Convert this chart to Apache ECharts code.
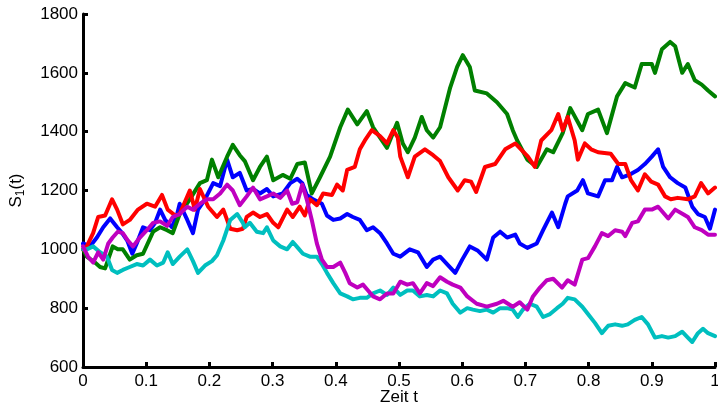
<!DOCTYPE html>
<html>
<head>
<meta charset="utf-8">
<script src="https://cdn.jsdelivr.net/npm/echarts@6/dist/echarts.min.js"></script>
<style>
html,body{margin:0;padding:0;background:#fff;}
#chart{width:718px;height:406px;}
</style>
</head>
<body>
<div id="chart"></div>
<script>
// Axis ticks
var xTicks = [0, 0.1, 0.2, 0.3, 0.4, 0.5, 0.6, 0.7, 0.8, 0.9, 1];
var yTicks = [600, 800, 1000, 1200, 1400, 1600, 1800];

// Series data: [t, S(t)]
var blueData = [[0,1020],[.011,1010],[.022,1040],[.032,1075],[.043,1105],[.054,1075],[.062,1055],[.070,1030],[.078,985],[.085,1020],[.095,1075],[.106,1065],[.114,1090],[.122,1135],[.130,1100],[.141,1075],[.149,1120],[.153,1155],[.165,1100],[.174,1055],[.182,1135],[.193,1170],[.206,1225],[.217,1215],[.228,1305],[.237,1245],[.248,1260],[.259,1200],[.269,1205],[.280,1190],[.291,1205],[.301,1180],[.316,1190],[.328,1225],[.339,1240],[.347,1225],[.354,1185],[.364,1170],[.378,1155],[.386,1115],[.396,1100],[.407,1105],[.418,1120],[.427,1110],[.438,1100],[.449,1065],[.459,1075],[.470,1055],[.481,1020],[.491,985],[.502,975],[.517,1000],[.530,990],[.544,940],[.554,965],[.565,975],[.576,950],[.589,920],[.600,965],[.612,1010],[.625,995],[.639,965],[.649,1040],[.660,1060],[.671,1040],[.684,1050],[.691,1020],[.703,1005],[.718,1020],[.728,1065],[.742,1125],[.752,1075],[.763,1155],[.767,1180],[.782,1200],[.791,1235],[.799,1190],[.815,1180],[.826,1235],[.837,1235],[.845,1280],[.853,1245],[.866,1255],[.878,1270],[.889,1290],[.900,1315],[.910,1340],[.918,1280],[.929,1245],[.941,1225],[.953,1210],[.964,1145],[.973,1120],[.984,1110],[.992,1070],[1,1135]];

var greenData = [[0,1000],[.006,975],[.019,955],[.027,940],[.035,935],[.047,1010],[.055,1000],[.063,1000],[.074,965],[.085,980],[.095,985],[.111,1060],[.122,1075],[.133,1065],[.142,1055],[.153,1120],[.169,1170],[.185,1225],[.196,1235],[.204,1305],[.214,1245],[.228,1315],[.237,1355],[.248,1320],[.256,1300],[.269,1235],[.280,1280],[.291,1315],[.301,1235],[.316,1253],[.328,1240],[.339,1290],[.351,1295],[.362,1190],[.375,1245],[.391,1315],[.407,1415],[.419,1475],[.434,1425],[.449,1470],[.459,1415],[.470,1380],[.481,1345],[.497,1430],[.506,1360],[.514,1330],[.525,1380],[.536,1450],[.544,1405],[.554,1380],[.565,1415],[.581,1550],[.592,1620],[.601,1660],[.612,1620],[.620,1540],[.639,1530],[.655,1500],[.671,1460],[.680,1405],[.687,1370],[.703,1305],[.718,1280],[.734,1340],[.744,1330],[.759,1395],[.771,1480],[.790,1405],[.799,1460],[.815,1475],[.829,1395],[.845,1520],[.858,1565],[.873,1550],[.884,1630],[.900,1630],[.905,1600],[.916,1680],[.929,1705],[.937,1690],[.948,1600],[.957,1630],[.968,1575],[.979,1560],[.989,1540],[1,1520]];

var redData = [[0,1000],[.006,1010],[.016,1055],[.024,1110],[.035,1115],[.046,1170],[.054,1135],[.063,1085],[.074,1100],[.087,1135],[.101,1155],[.114,1145],[.125,1185],[.134,1135],[.146,1115],[.153,1120],[.169,1200],[.177,1135],[.185,1205],[.198,1145],[.212,1110],[.222,1135],[.228,1100],[.233,1070],[.244,1065],[.253,1070],[.259,1110],[.269,1125],[.280,1110],[.291,1120],[.301,1090],[.309,1075],[.323,1135],[.332,1110],[.343,1145],[.351,1115],[.359,1170],[.370,1150],[.380,1190],[.394,1185],[.402,1220],[.411,1200],[.418,1270],[.430,1280],[.438,1340],[.446,1370],[.457,1405],[.470,1385],[.481,1360],[.491,1405],[.498,1380],[.502,1315],[.514,1245],[.525,1315],[.541,1340],[.554,1320],[.565,1300],[.578,1245],[.593,1200],[.604,1235],[.614,1230],[.622,1195],[.636,1280],[.652,1290],[.668,1340],[.684,1360],[.693,1340],[.704,1315],[.715,1280],[.725,1370],[.741,1405],[.752,1460],[.759,1405],[.767,1450],[.778,1370],[.783,1305],[.794,1360],[.804,1340],[.815,1330],[.835,1325],[.847,1290],[.858,1290],[.867,1235],[.878,1200],[.889,1255],[.899,1230],[.910,1220],[.921,1180],[.930,1170],[.941,1175],[.957,1170],[.968,1180],[.978,1225],[.989,1190],[1,1210]];

var cyanData = [[0,1000],[.006,1000],[.016,1010],[.027,990],[.038,975],[.046,930],[.054,920],[.063,930],[.074,940],[.085,950],[.095,945],[.106,965],[.117,945],[.127,955],[.134,990],[.142,950],[.153,975],[.165,1000],[.174,960],[.182,920],[.193,945],[.204,960],[.212,980],[.222,1030],[.233,1100],[.244,1120],[.253,1090],[.256,1075],[.264,1090],[.275,1060],[.285,1055],[.291,1075],[.301,1030],[.312,1010],[.323,1000],[.332,1025],[.340,1005],[.348,985],[.359,975],[.370,975],[.378,950],[.386,920],[.396,885],[.407,850],[.418,840],[.427,830],[.438,835],[.449,835],[.459,850],[.470,860],[.481,845],[.491,870],[.502,845],[.513,860],[.522,860],[.533,840],[.544,845],[.554,840],[.565,860],[.576,850],[.585,815],[.597,785],[.608,800],[.617,795],[.628,790],[.639,795],[.649,785],[.660,800],[.671,800],[.680,795],[.688,770],[.696,795],[.707,815],[.718,805],[.728,770],[.739,780],[.750,800],[.759,815],[.767,835],[.778,830],[.790,805],[.799,780],[.810,750],[.821,715],[.831,740],[.842,745],[.853,740],[.862,745],[.873,760],[.884,770],[.894,745],[.905,700],[.916,705],[.926,700],[.937,705],[.948,720],[.957,700],[.964,685],[.973,715],[.981,730],[.989,715],[1,705]];

var magentaData = [[0,1010],[.008,975],[.016,955],[.024,990],[.032,965],[.040,1020],[.047,1040],[.055,1060],[.063,1055],[.071,1030],[.079,1010],[.090,1040],[.101,1065],[.111,1090],[.122,1095],[.133,1080],[.142,1110],[.153,1120],[.165,1145],[.174,1135],[.185,1155],[.196,1170],[.206,1170],[.217,1190],[.228,1220],[.237,1200],[.248,1150],[.259,1180],[.269,1210],[.280,1170],[.291,1180],[.301,1190],[.312,1175],[.323,1200],[.331,1155],[.339,1160],[.347,1220],[.354,1170],[.362,1100],[.370,1020],[.378,965],[.386,940],[.396,940],[.407,955],[.415,920],[.422,885],[.434,870],[.443,880],[.451,860],[.459,840],[.470,830],[.481,850],[.491,850],[.502,890],[.513,880],[.522,885],[.533,850],[.544,885],[.554,875],[.565,905],[.576,890],[.585,880],[.597,870],[.608,840],[.623,815],[.639,805],[.655,815],[.665,825],[.680,805],[.691,820],[.703,795],[.712,840],[.723,870],[.734,895],[.744,900],[.758,870],[.767,895],[.778,880],[.790,965],[.799,970],[.810,1010],[.821,1055],[.831,1045],[.842,1065],[.853,1060],[.858,1045],[.869,1090],[.878,1095],[.889,1135],[.900,1135],[.910,1145],[.926,1105],[.937,1135],[.949,1120],[.957,1110],[.968,1075],[.979,1065],[.989,1050],[1,1050]];

var seriesNames = ['path 1', 'path 2', 'path 3', 'path 4', 'path 5'];
var seriesColors = ['#0000ff', '#008000', '#ff0000', '#00bfbf', '#bf00bf'];
var seriesData = [blueData, greenData, redData, cyanData, magentaData];

var FONT = '"Liberation Sans", Arial, Helvetica, sans-serif';
var chart = echarts.init(document.getElementById('chart'), null, {renderer: 'canvas'});

var series = seriesData.map(function (d, i) {
  return {
    name: seriesNames[i],
    type: 'line',
    data: d,
    showSymbol: false,
    symbol: 'none',
    silent: true,
    animation: false,
    z: 2 + i,
    lineStyle: {color: seriesColors[i], width: 4, join: 'round', cap: 'round'}
  };
});

chart.setOption({
  animation: false,
  backgroundColor: '#ffffff',
  grid: {left: 83, right: 3, top: 14, bottom: 39, containLabel: false, outerBoundsMode: 'none'},
  xAxis: {
    type: 'value',
    min: xTicks[0],
    max: xTicks[xTicks.length - 1],
    interval: 0.1,
    name: 'Zeit t',
    nameLocation: 'middle',
    nameGap: 22,
    nameMoveOverlap: false,
    nameTextStyle: {color: '#000', fontSize: 17, fontFamily: FONT},
    axisLine: {show: true, lineStyle: {color: '#000', width: 3}},
    axisTick: {show: true, inside: true, length: 5, lineStyle: {color: '#000', width: 3}},
    axisLabel: {color: '#000', fontSize: 17, fontFamily: FONT, margin: 6,
      formatter: function (v) { return String(Math.round(v * 10) / 10); }},
    splitLine: {show: false}
  },
  yAxis: {
    type: 'value',
    min: yTicks[0],
    max: yTicks[yTicks.length - 1],
    interval: 200,
    name: '{s|S}{sub|1}{s|(t)}',
    nameLocation: 'middle',
    nameGap: 56,
    nameMoveOverlap: false,
    nameTextStyle: {
      color: '#000', fontSize: 17, fontFamily: FONT,
      rich: {
        s: {fontSize: 17, fontFamily: FONT, color: '#000', lineHeight: 22},
        sub: {fontSize: 12, fontFamily: FONT, color: '#000', lineHeight: 12, verticalAlign: 'bottom'}
      }
    },
    axisLine: {show: true, lineStyle: {color: '#000', width: 3}},
    axisTick: {show: true, inside: true, length: 5, lineStyle: {color: '#000', width: 3}},
    axisLabel: {color: '#000', fontSize: 17, fontFamily: FONT, margin: 5,
      formatter: function (v) { return String(v); }},
    splitLine: {show: false}
  },
  series: series
});
</script>
</body>
</html>
